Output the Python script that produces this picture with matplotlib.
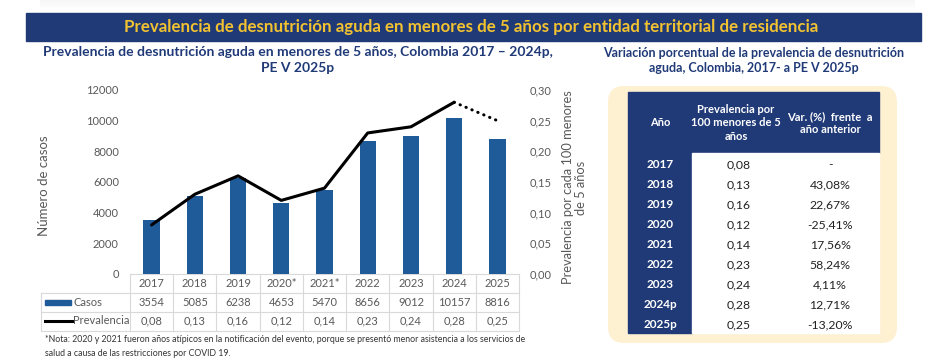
import matplotlib
matplotlib.use("Agg")
import matplotlib.pyplot as plt
import numpy as np
from matplotlib.patches import FancyBboxPatch, Rectangle
from matplotlib.transforms import blended_transform_factory
from matplotlib.ticker import FuncFormatter

plt.rcParams['font.family'] = ['Lato', 'DejaVu Sans']

# data
years = ['2017', '2018', '2019', '2020*', '2021*', '2022', '2023', '2024', '2025']
casos = [3554, 5085, 6238, 4653, 5470, 8656, 9012, 10157, 8816]
prevalencia = [0.08, 0.13, 0.16, 0.12, 0.14, 0.23, 0.24, 0.28, 0.25]

tabla_anios = ['2017', '2018', '2019', '2020', '2021', '2022', '2023', '2024p', '2025p']
tabla_prev = ['0,08', '0,13', '0,16', '0,12', '0,14', '0,23', '0,24', '0,28', '0,25']
tabla_var = ['-', '43,08%', '22,67%', '-25,41%', '17,56%', '58,24%', '4,11%', '12,71%', '-13,20%']

# colors
azul_header = '#203a78'
amarillo = '#f2c230'
azul_barra = '#1f5b98'
crema = '#fdf1d2'
gris_txt = '#595959'
gris_linea = '#d9d9d9'

W, H = 943, 364
fig = plt.figure(figsize=(W / 100, H / 100), dpi=100)

# overlay axes in pixel coordinates for the layout
bg = fig.add_axes([0, 0, 1, 1], zorder=-1)
bg.set_xlim(0, W)
bg.set_ylim(H, 0)
bg.axis('off')

# faint shadow of the card above
grad = np.linspace(0.93, 1.0, 50).reshape(-1, 1)
bg.imshow(np.repeat(grad, 2, axis=1), cmap='gray', vmin=0, vmax=1,
          extent=(40, 915, 11, 0), aspect='auto', alpha=0.5)

# header bar
bg.add_patch(Rectangle((26, 13), 895, 28, color=azul_header))
bg.text(471, 27, 'Prevalencia de desnutrición aguda en menores de 5 años por entidad territorial de residencia',
        ha='center', va='center', color=amarillo, fontsize=12.2, fontweight='bold')

# subtitles
bg.text(298, 52, 'Prevalencia de desnutrición aguda en menores de 5 años, Colombia 2017 – 2024p,',
        ha='center', va='center', color=azul_header, fontsize=10, fontweight='bold')
bg.text(298, 68, 'PE V 2025p', ha='center', va='center', color=azul_header, fontsize=10, fontweight='bold')
bg.text(754, 53, 'Variación porcentual de la prevalencia de desnutrición',
        ha='center', va='center', color=azul_header, fontsize=9, fontweight='bold')
bg.text(754, 68, 'aguda, Colombia, 2017- a PE V 2025p',
        ha='center', va='center', color=azul_header, fontsize=9, fontweight='bold')

# main chart
ax = fig.add_axes([130 / W, 1 - 274 / H, 389 / W, 184 / H])
ax.patch.set_alpha(0)
x = np.arange(len(years))
ax.bar(x, casos, width=0.38, color=azul_barra, zorder=2)
ax.set_xlim(-0.5, len(years) - 0.5)
ax.set_ylim(0, 12000)
ax.set_yticks(range(0, 12001, 2000))
ax.set_xticks([])
ax.tick_params(axis='y', length=0, pad=8, labelsize=8, labelcolor=gris_txt)
for s in ax.spines.values():
    s.set_visible(False)
ax.set_ylabel('Número de casos', fontsize=9.5, color=gris_txt)
ax.yaxis.set_label_coords(-0.205, 0.48)

ax2 = ax.twinx()
ax2.plot(x[:-1], prevalencia[:-1], color='black', lw=2.2, solid_capstyle='round', zorder=3)
ax2.plot(x[-2:], prevalencia[-2:], color='black', lw=2.2, linestyle=(0, (0.1, 2.0)),
         dash_capstyle='round', zorder=3)
ax2.set_ylim(0, 0.30)
ax2.set_yticks(np.arange(0, 0.301, 0.05))
ax2.yaxis.set_major_formatter(FuncFormatter(lambda v, p: f'{v:.2f}'.replace('.', ',')))
ax2.tick_params(axis='y', length=0, pad=8, labelsize=8, labelcolor=gris_txt)
for s in ax2.spines.values():
    s.set_visible(False)
ax2.set_ylabel('Prevalencia por cada 100 menores\nde 5 años', fontsize=9.3, color=gris_txt,
               rotation=90, linespacing=1.15)
ax2.yaxis.set_label_coords(1.11, 0.47)

# data table under chart (x from data, y in pixels)
tr = blended_transform_factory(ax.transData, bg.transData)
left_px = 41
row_y = [273.5, 292.5, 311.5, 330.5]
bg.plot([-0.5, len(years) - 0.5], [row_y[0]] * 2, transform=tr, color=gris_linea, lw=0.8, clip_on=False)
for yy in row_y[1:]:
    bg.plot([left_px, 519], [yy, yy], color=gris_linea, lw=0.8)
bg.plot([left_px, left_px], [row_y[1], row_y[3]], color=gris_linea, lw=0.8)
for i in range(len(years) + 1):
    bg.plot([i - 0.5, i - 0.5], [row_y[0], row_y[3]], transform=tr, color=gris_linea, lw=0.8, clip_on=False)

for i in range(len(years)):
    bg.text(i, 283.5, years[i], transform=tr, ha='center', va='center', fontsize=8, color=gris_txt)
    bg.text(i, 302.5, str(casos[i]), transform=tr, ha='center', va='center', fontsize=8, color=gris_txt)
    bg.text(i, 321, f'{prevalencia[i]:.2f}'.replace('.', ','), transform=tr, ha='center', va='center',
            fontsize=8, color=gris_txt)

bg.add_patch(Rectangle((45, 299.5), 26, 5, color=azul_barra))
bg.plot([45, 72], [321, 321], color='black', lw=2.2)
bg.text(73, 302.5, 'Casos', ha='left', va='center', fontsize=8, color=gris_txt)
bg.text(73, 321, 'Prevalencia', ha='left', va='center', fontsize=8, color=gris_txt)

# note
bg.text(45, 340, '*Nota: 2020 y 2021 fueron años atípicos en la notificación del evento, porque se presentó menor asistencia a los servicios de',
        ha='left', va='center', fontsize=6.3, color='#333333')
bg.text(45, 354, 'salud a causa de las restricciones por COVID 19.',
        ha='left', va='center', fontsize=6.3, color='#333333')

# right panel: cream box and table
bg.add_patch(FancyBboxPatch((608, 86), 289, 257, boxstyle='round,pad=0,rounding_size=16',
                            facecolor=crema, edgecolor='none'))
bg.add_patch(Rectangle((628, 92), 251, 61, color=azul_header))
bg.add_patch(Rectangle((628, 153), 64, 180, color=azul_header))
bg.add_patch(Rectangle((692, 153), 187, 180, color='white'))

col_x = [660, 736, 830]
hdr = dict(ha='center', va='center', fontsize=8, color='white', fontweight='bold')
bg.text(col_x[0], 123, 'Año', **hdr)
bg.text(col_x[1], 123, 'Prevalencia por\n100 menores de 5\naños', linespacing=1.25, **hdr)
bg.text(col_x[2], 123, 'Var. (%)  frente  a\naño anterior', linespacing=1.25, **hdr)

for i in range(len(tabla_anios)):
    yy = 165 + 20 * i
    bg.text(col_x[0], yy, tabla_anios[i], fontsize=8.5,
            **{k: v for k, v in hdr.items() if k != 'fontsize'})
    bg.text(col_x[1] + 3, yy, tabla_prev[i], ha='center', va='center', fontsize=8.8, color='#222222')
    bg.text(col_x[2], yy, tabla_var[i], ha='center', va='center', fontsize=8.8, color='#222222')

fig.savefig('out.png', dpi=100)
